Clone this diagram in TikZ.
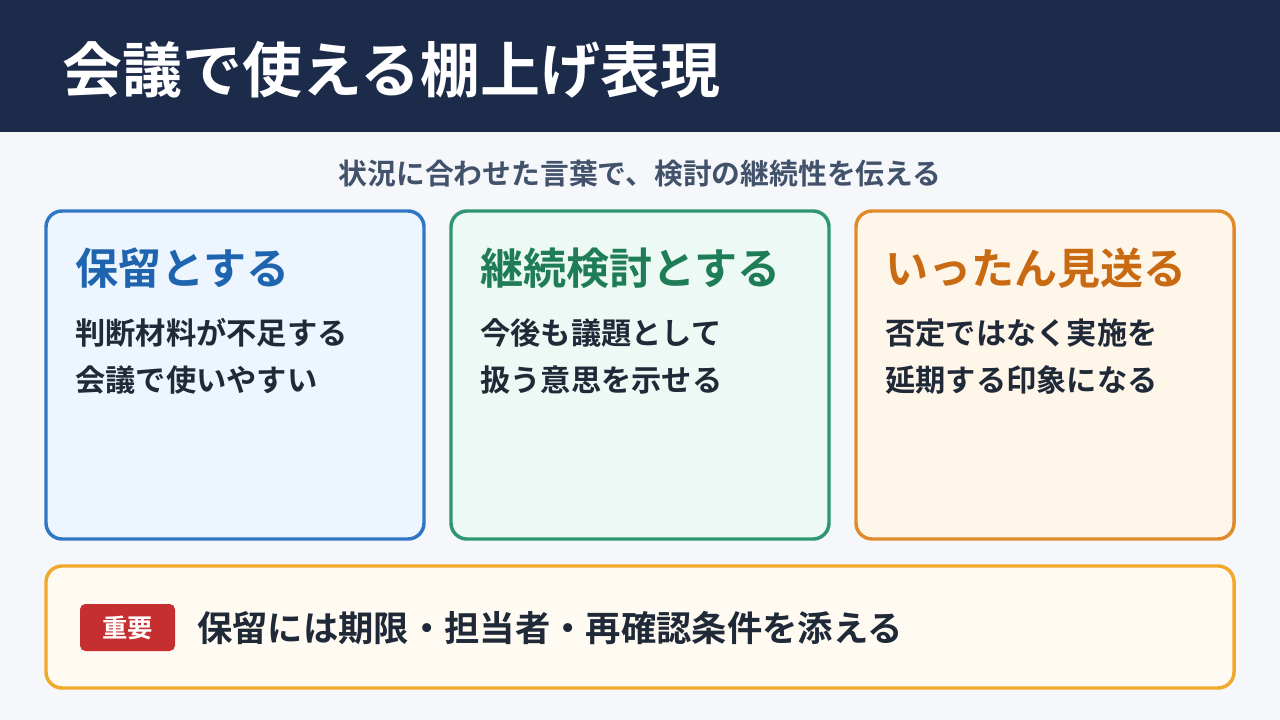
\documentclass[tikz,border=0pt]{standalone}
\usepackage{fontspec}
\setmainfont{Noto Sans CJK JP}
\newfontfamily\jpb{Noto Sans CJK JP Bold}
\definecolor{navy}{HTML}{1C2B4A}
\definecolor{bg}{HTML}{F5F7FB}
\definecolor{sub}{HTML}{42526B}
\definecolor{ink}{HTML}{1F2937}
\definecolor{bluel}{HTML}{2F76C4}\definecolor{bluef}{HTML}{EDF5FE}\definecolor{bluet}{HTML}{1F64AE}
\definecolor{greenl}{HTML}{2E9670}\definecolor{greenf}{HTML}{EDF9F4}\definecolor{greent}{HTML}{1E7D57}
\definecolor{orl}{HTML}{E08A2C}\definecolor{orf}{HTML}{FFF6EA}\definecolor{ort}{HTML}{C86A12}
\definecolor{yl}{HTML}{F0A92A}\definecolor{yf}{HTML}{FFFBF2}\definecolor{redb}{HTML}{C62F2F}
\begin{document}
\begin{tikzpicture}[x=0.75pt,y=-0.75pt,
 card/.style={draw=#1,line width=2.6pt,rounded corners=12pt},
 ctitle/.style={anchor=west,inner sep=0pt,font=\jpb\fontsize{32.3}{36}\selectfont,text=#1},
 body/.style={anchor=west,inner sep=0pt,font=\jpb\fontsize{22.7}{26}\selectfont,text=ink}]
\fill[bg] (0,0) rectangle (1280,720);
\useasboundingbox (0,0) rectangle (1280,720);
\fill[navy] (0,0) rectangle (1280,132);
\node[anchor=west,inner sep=0pt,text=white,font=\jpb\fontsize{45}{50}\selectfont] (title) at (62,70) {会議で使える棚上げ表現};
\node[text=sub,font=\jpb\fontsize{21.6}{24}\selectfont] (subt) at (640,174) {状況に合わせた言葉で、検討の継続性を伝える};
\draw[card=bluel,fill=bluef] (46,211) rectangle (424,539);
\draw[card=greenl,fill=greenf] (451,211) rectangle (829,539);
\draw[card=orl,fill=orf] (856,211) rectangle (1234,539);
\node[ctitle=bluet] (t1) at (75,268) {保留とする};
\node[ctitle=greent] (t2) at (480,268) {継続検討とする};
\node[ctitle=ort] (t3) at (885,268) {いったん見送る};
\node[body] (b1a) at (75,333) {判断材料が不足する};
\node[body] (b1b) at (75,380) {会議で使いやすい};
\node[body] (b2a) at (480,333) {今後も議題として};
\node[body] (b2b) at (480,380) {扱う意思を示せる};
\node[body] (b3a) at (885,333) {否定ではなく実施を};
\node[body] (b3b) at (885,380) {延期する印象になる};
\draw[card=yl,fill=yf] (46,566) rectangle (1234,688);
\fill[redb,rounded corners=4pt] (80,604) rectangle (175,651);
\node[text=white,font=\jpb\fontsize{19}{22}\selectfont] (badge) at (127.5,627.5) {重要};
\node[anchor=west,inner sep=0pt,text=ink,font=\jpb\fontsize{26.5}{30}\selectfont] (note) at (197,628) {保留には期限・担当者・再確認条件を添える};
\end{tikzpicture}
\end{document}
